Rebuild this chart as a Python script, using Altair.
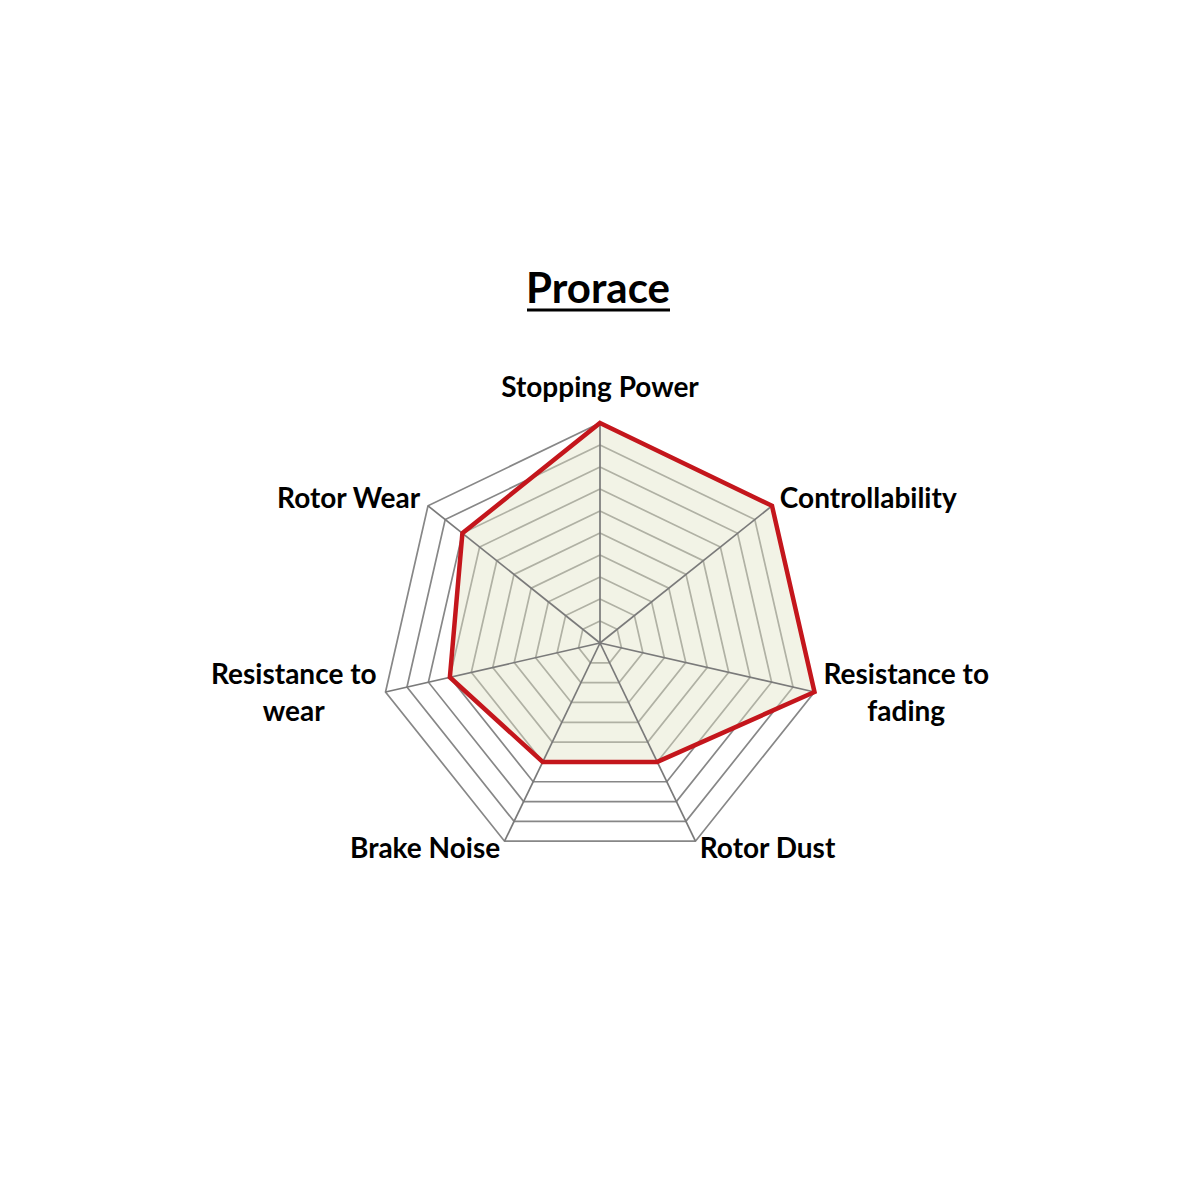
import math
import altair as alt
import pandas as pd

# ---- data ----
title_text = "Prorace"
categories = ["Stopping Power", "Controllability", "Resistance to\nfading",
              "Rotor Dust", "Brake Noise", "Resistance to\nwear", "Rotor Wear"]
scores = [10, 10, 10, 6, 6, 7, 8]
score_max = 10
ring_levels = [1, 2, 3, 4, 5, 6, 7, 8, 9, 10]

# ---- geometry helpers (unit radius = score_max) ----
n = len(categories)
angles = [math.pi / 2 - 2 * math.pi * k / n for k in range(n)]


def pt(r, a):
    return [r * math.cos(a), r * math.sin(a)]


def feature(kind, coords):
    return {"type": "Feature", "properties": {},
            "geometry": {"type": kind, "coordinates": coords}}


ring_features = [feature("LineString", [pt(l / score_max, a) for a in angles + angles[:1]])
                 for l in ring_levels]
spoke_features = [feature("LineString", [[0, 0], pt(1, a)]) for a in angles]
poly = [pt(s / score_max, a) for s, a in zip(scores, angles)]
poly.append(poly[0])
area_features = [feature("Polygon", [poly])]

R_PX = 220
proj = dict(type="identity", scale=R_PX, translate=[592, 635], reflectY=True)

pad = 10 / R_PX
rows = []
for name, a in zip(categories, angles):
    c = math.cos(a)
    if abs(c) < 0.05:
        group = "top"
    elif "\n" in name:
        group = "multi_right" if c > 0 else "multi_left"
    else:
        group = "right" if c > 0 else "left"
    rows.append({"name": name, "lon": (1 + pad) * c, "lat": (1 + pad) * math.sin(a), "group": group})
labels = pd.DataFrame(rows)

rings = alt.Chart(alt.Data(values=ring_features)).mark_geoshape(
    filled=False, stroke="#878787", strokeWidth=1.7).project(**proj)
fill = alt.Chart(alt.Data(values=area_features)).mark_geoshape(
    fill="#E2E5C8", fillOpacity=0.45, strokeOpacity=0).project(**proj)
spokes = alt.Chart(alt.Data(values=spoke_features)).mark_geoshape(
    filled=False, stroke="#7a7a7a", strokeWidth=1.7).project(**proj)
outline = alt.Chart(alt.Data(values=area_features)).mark_geoshape(
    filled=False, stroke="#C4161C", strokeWidth=4.5, strokeJoin="miter").project(**proj)

font = "Lato"
fsize = 28
line_h = 37


def text_layer(group, align, baseline, dx=0, dy=0):
    return alt.Chart(labels).transform_filter(alt.datum.group == group).mark_text(
        font=font, fontWeight="bold", fontSize=fsize, color="black",
        align=align, baseline=baseline, dx=dx, dy=dy, lineBreak="\n", lineHeight=line_h
    ).encode(longitude="lon:Q", latitude="lat:Q", text="name:N").project(**proj)


t_top = text_layer("top", "center", "alphabetic", dy=-16)
t_right = text_layer("right", "left", "middle")
t_left = text_layer("left", "right", "middle")
t_mr = text_layer("multi_right", "center", "middle", dx=82, dy=-line_h / 2)
t_ml = text_layer("multi_left", "center", "middle", dx=-82, dy=-line_h / 2)

title_df = pd.DataFrame({"t": [title_text]})
title = alt.Chart(title_df).mark_text(
    font=font, fontWeight="bold", fontSize=42, color="black", align="center", baseline="alphabetic"
).encode(text="t:N", x=alt.value(590), y=alt.value(295))
underline = alt.Chart(title_df).mark_rule(color="black", strokeWidth=3).encode(
    x=alt.value(519), x2=alt.value(662), y=alt.value(302))

chart = alt.layer(
    rings, fill, spokes, outline, t_top, t_right, t_left, t_mr, t_ml, title, underline
).properties(
    width=1184, height=1184, padding=0, autosize="none", background="white"
).configure_view(stroke=None)

chart.save("out.html", embed_options={"renderer": "svg", "actions": False})
